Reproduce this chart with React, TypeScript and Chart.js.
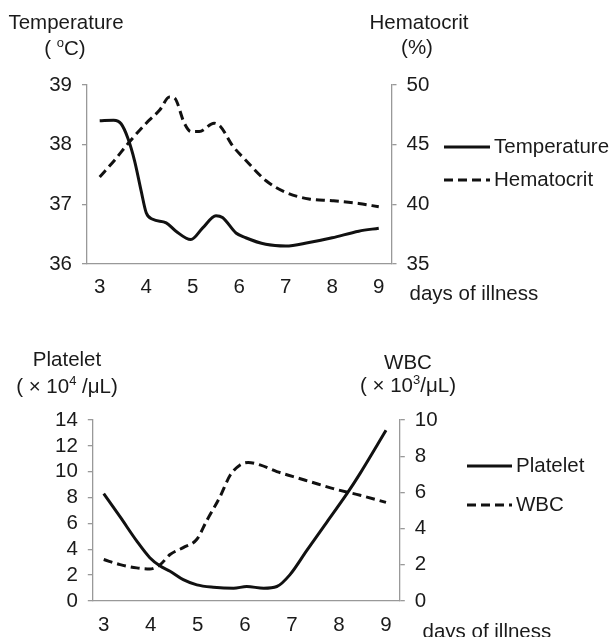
import React, { useEffect, useRef } from "react";
import { Chart, registerables } from "chart.js";

Chart.register(...registerables);

// ---------- data ----------
const dayTicks = [3, 4, 5, 6, 7, 8, 9];

const tempTicks = [36, 37, 38, 39];
const hctTicks = [35, 40, 45, 50];
const pltTicks = [0, 2, 4, 6, 8, 10, 12, 14];
const wbcTicks = [0, 2, 4, 6, 8, 10];

const tempDays = [3, 3.3, 3.46, 3.61, 3.75, 3.89, 4.0, 4.14, 4.43, 4.64, 4.96, 5.21, 5.5, 5.64, 5.93, 6.14, 6.57, 7.0, 7.5, 8.0, 8.57, 9];
const tempValues = [38.4, 38.41, 38.35, 38.1, 37.73, 37.23, 36.86, 36.75, 36.69, 36.55, 36.41, 36.6, 36.81, 36.78, 36.52, 36.44, 36.33, 36.3, 36.36, 36.44, 36.55, 36.6];

const hctDays = [3, 3.32, 3.61, 4.0, 4.29, 4.5, 4.61, 4.82, 4.96, 5.14, 5.46, 5.6, 5.86, 6.14, 6.57, 7.0, 7.5, 8.0, 8.57, 9];
const hctValues = [42.3, 43.7, 45.1, 46.8, 47.9, 49.0, 48.9, 46.8, 46.1, 46.1, 46.8, 46.5, 44.9, 43.7, 42.0, 41.0, 40.45, 40.3, 40.07, 39.8];

const pltDays = [3, 3.35, 3.7, 3.98, 4.2, 4.41, 4.69, 4.98, 5.33, 5.76, 6.04, 6.4, 6.68, 6.96, 7.31, 7.74, 8.17, 8.45, 9];
const pltValues = [8.3, 6.5, 4.65, 3.35, 2.7, 2.3, 1.65, 1.25, 1.07, 0.99, 1.12, 0.99, 1.12, 2.04, 3.87, 6.09, 8.3, 9.87, 13.2];

const wbcDays = [3, 3.35, 3.7, 3.98, 4.2, 4.41, 4.69, 4.98, 5.19, 5.47, 5.69, 5.9, 6.07, 6.32, 6.68, 7.03, 7.39, 7.88, 8.45, 9];
const wbcValues = [2.29, 2.01, 1.83, 1.77, 2.01, 2.57, 2.95, 3.41, 4.44, 5.75, 6.96, 7.52, 7.65, 7.52, 7.15, 6.87, 6.59, 6.21, 5.84, 5.45];

// ---------- styles ----------
const FONT = '"Liberation Sans", Arial, sans-serif';
const FS = 20.5;
const SUP = 13;
const TEXT = "#1a1a1a";
const AXIS = "#999999";
const LINE = "#111111";
const DASH = [9, 5];

const zip = (xs: number[], ys: number[]) => xs.map((x, i) => ({ x, y: ys[i] }));

// text pieces: [string, isSuperscript]
type Txt = { parts: [string, boolean][]; x: number; y: number; align: "left" | "center" };
type Leg = { x1: number; x2: number; y: number; dash: number[]; text: string };

const overlay = {
  id: "overlay",
  afterDraw(chart: any, _a: any, opts: any) {
    const ctx = chart.ctx as CanvasRenderingContext2D;
    ctx.save();
    ctx.fillStyle = TEXT;
    ctx.textBaseline = "middle";
    ctx.textAlign = "left";
    const fontOf = (sup: boolean) => `${sup ? SUP : FS}px ${FONT}`;
    (opts.texts as Txt[]).forEach((t) => {
      let total = 0;
      t.parts.forEach(([s, sup]) => {
        ctx.font = fontOf(sup);
        total += ctx.measureText(s).width;
      });
      let x = t.align === "center" ? t.x - total / 2 : t.x;
      t.parts.forEach(([s, sup]) => {
        ctx.font = fontOf(sup);
        ctx.fillText(s, x, sup ? t.y - 6 : t.y);
        x += ctx.measureText(s).width;
      });
    });
    ctx.font = fontOf(false);
    (opts.legend as Leg[]).forEach((l) => {
      ctx.beginPath();
      ctx.strokeStyle = LINE;
      ctx.lineWidth = 3;
      ctx.setLineDash(l.dash);
      ctx.moveTo(l.x1, l.y);
      ctx.lineTo(l.x2, l.y);
      ctx.stroke();
      ctx.setLineDash([]);
      ctx.fillText(l.text, l.x2 + 4, l.y);
    });
    ctx.restore();
  },
};

type Params = {
  width: number;
  height: number;
  left: number;
  right: number;
  top: number;
  bottom: number;
  xMin: number;
  xMax: number;
  xPad: number;
  yL: number[];
  yR: number[];
  solidLabel: string;
  solid: { x: number; y: number }[];
  dashLabel: string;
  dashed: { x: number; y: number }[];
  texts: Txt[];
  legend: Leg[];
};

function yAxis(position: "left" | "right", ticks: number[], width: number) {
  return {
    type: "linear",
    position,
    min: ticks[0],
    max: ticks[ticks.length - 1],
    afterBuildTicks: (s: any) => {
      s.ticks = ticks.map((v) => ({ value: v }));
    },
    afterFit: (s: any) => {
      s.width = width;
    },
    grid: { drawOnChartArea: false, drawTicks: true, tickLength: 5, color: AXIS, lineWidth: 1.3 },
    border: { display: true, color: AXIS, width: 1.3 },
    ticks: { color: TEXT, font: { family: FONT, size: FS }, padding: 10, autoSkip: false },
  };
}

function makeConfig(p: Params): any {
  return {
    type: "line",
    data: {
      datasets: [
        {
          label: p.solidLabel,
          data: p.solid,
          yAxisID: "yL",
          borderColor: LINE,
          borderWidth: 3,
          pointRadius: 0,
          cubicInterpolationMode: "monotone",
          fill: false,
        },
        {
          label: p.dashLabel,
          data: p.dashed,
          yAxisID: "yR",
          borderColor: LINE,
          borderWidth: 3,
          borderDash: DASH,
          pointRadius: 0,
          cubicInterpolationMode: "monotone",
          fill: false,
        },
      ],
    },
    options: {
      responsive: false,
      animation: false,
      devicePixelRatio: 1,
      layout: { padding: { top: p.top, left: 0, right: 0, bottom: 0 } },
      plugins: {
        legend: { display: false },
        tooltip: { enabled: false },
        overlay: { texts: p.texts, legend: p.legend },
      },
      scales: {
        x: {
          type: "linear",
          min: p.xMin,
          max: p.xMax,
          afterBuildTicks: (s: any) => {
            s.ticks = dayTicks.map((v) => ({ value: v }));
          },
          afterFit: (s: any) => {
            s.height = p.height - p.bottom;
          },
          grid: { display: false, drawTicks: false },
          border: { display: true, color: AXIS, width: 1.3 },
          ticks: { color: TEXT, font: { family: FONT, size: FS }, padding: p.xPad, maxRotation: 0, autoSkip: false },
        },
        yL: yAxis("left", p.yL, p.left),
        yR: yAxis("right", p.yR, p.width - p.right),
      },
    },
    plugins: [overlay],
  };
}

const topParams: Params = {
  width: 611,
  height: 318,
  left: 87,
  right: 391.5,
  top: 85,
  bottom: 264,
  xMin: 2.727,
  xMax: 9.274,
  xPad: 11,
  yL: tempTicks,
  yR: hctTicks,
  solidLabel: "Temperature",
  solid: zip(tempDays, tempValues),
  dashLabel: "Hematocrit",
  dashed: zip(hctDays, hctValues),
  texts: [
    { parts: [["Temperature", false]], x: 66, y: 23, align: "center" },
    { parts: [["( ", false], ["o", true], ["C)", false]], x: 65, y: 49, align: "center" },
    { parts: [["Hematocrit", false]], x: 419, y: 23, align: "center" },
    { parts: [["(%)", false]], x: 417, y: 48, align: "center" },
    { parts: [["days of illness", false]], x: 409.5, y: 294, align: "left" },
  ],
  legend: [
    { x1: 444, x2: 490, y: 147, dash: [], text: "Temperature" },
    { x1: 444, x2: 490, y: 180, dash: DASH, text: "Hematocrit" },
  ],
};

const bottomParams: Params = {
  width: 611,
  height: 319,
  left: 92.8,
  right: 399.8,
  top: 102,
  bottom: 283,
  xMin: 2.768,
  xMax: 9.293,
  xPad: 12,
  yL: pltTicks,
  yR: wbcTicks,
  solidLabel: "Platelet",
  solid: zip(pltDays, pltValues),
  dashLabel: "WBC",
  dashed: zip(wbcDays, wbcValues),
  texts: [
    { parts: [["Platelet", false]], x: 67, y: 42, align: "center" },
    { parts: [["( × 10", false], ["4", true], [" /μL)", false]], x: 67, y: 69, align: "center" },
    { parts: [["WBC", false]], x: 408, y: 45, align: "center" },
    { parts: [["( × 10", false], ["3", true], ["/μL)", false]], x: 408, y: 68, align: "center" },
    { parts: [["days of illness", false]], x: 422.5, y: 314.5, align: "left" },
  ],
  legend: [
    { x1: 467, x2: 512, y: 148, dash: [], text: "Platelet" },
    { x1: 467, x2: 512, y: 187, dash: DASH, text: "WBC" },
  ],
};

function ChartCanvas({ params, top }: { params: Params; top: number }) {
  const ref = useRef<HTMLCanvasElement | null>(null);
  useEffect(() => {
    if (!ref.current) return;
    const chart = new Chart(ref.current, makeConfig(params));
    return () => chart.destroy();
  }, [params]);
  return (
    <canvas
      ref={ref}
      width={params.width}
      height={params.height}
      style={{ position: "absolute", left: 0, top, width: params.width, height: params.height }}
    />
  );
}

export default function App() {
  return (
    <div style={{ position: "absolute", left: 0, top: 0, width: 611, height: 637, background: "#fff", overflow: "hidden" }}>
      <ChartCanvas params={topParams} top={0} />
      <ChartCanvas params={bottomParams} top={318} />
    </div>
  );
}
